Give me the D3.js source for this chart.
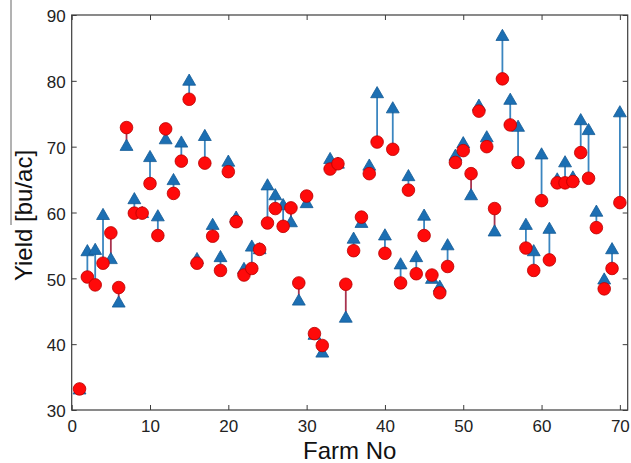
<!DOCTYPE html>
<html>
<head>
<meta charset="utf-8">
<script src="https://cdn.jsdelivr.net/npm/d3@7"></script>
<style>
  html, body { margin: 0; padding: 0; background: #fff; }
  svg { display: block; }
  .tick text { font-family: "Liberation Sans", Arial, sans-serif; font-size: 17px; fill: #222; }
</style>
</head>
<body>
<svg id="chart" width="631" height="463"></svg>
<script>
// Farm numbers (x categories)
const farms = [
  1, 2, 3, 4, 5, 6, 7, 8, 9, 10,
  11, 12, 13, 14, 15, 16, 17, 18, 19, 20,
  21, 22, 23, 24, 25, 26, 27, 28, 29, 30,
  31, 32, 33, 34, 35, 36, 37, 38, 39, 40,
  41, 42, 43, 44, 45, 46, 47, 48, 49, 50,
  51, 52, 53, 54, 55, 56, 57, 58, 59, 60,
  61, 62, 63, 64, 65, 66, 67, 68, 69, 70
];

// Red circles
const circleYield = [
  33.2, 50.2, 49.0, 52.3, 56.9, 48.6, 72.9, 59.9, 59.9, 64.4,
  56.5, 72.7, 62.9, 67.8, 77.2, 52.3, 67.5, 56.4, 51.2, 66.2,
  58.6, 50.5, 51.5, 54.4, 58.4, 60.6, 57.9, 60.7, 49.3, 62.5,
  41.6, 39.8, 66.6, 67.4, 49.1, 54.2, 59.3, 65.9, 70.7, 53.8,
  69.6, 49.3, 63.4, 50.7, 56.5, 50.5, 47.8, 51.8, 67.6, 69.4,
  65.9, 75.4, 70.0, 60.6, 80.3, 73.3, 67.6, 54.6, 51.2, 61.8,
  52.8, 64.5, 64.5, 64.7, 69.1, 65.2, 57.7, 48.4, 51.5, 61.5
];

// Blue triangles
const triangleYield = [
  33.0, 54.0, 54.2, 59.5, 52.8, 46.2, 70.0, 61.9, 59.8, 68.3,
  59.3, 71.0, 64.8, 70.5, 79.9, 52.8, 71.5, 58.0, 53.1, 67.6,
  59.1, 51.3, 54.7, 54.3, 64.0, 62.5, 61.0, 58.4, 46.5, 61.3,
  41.3, 38.6, 68.0, 67.3, 43.9, 55.9, 58.3, 67.0, 78.0, 56.4,
  75.7, 52.0, 65.4, 53.1, 59.4, 49.8, 48.6, 54.9, 68.5, 70.4,
  62.5, 76.1, 71.3, 57.0, 86.7, 77.0, 72.9, 58.0, 54.0, 68.7,
  57.4, 64.9, 67.5, 65.2, 73.9, 72.4, 60.0, 49.7, 54.3, 75.1
];

const xTicks = [0, 10, 20, 30, 40, 50, 60, 70];
const yTicks = [30, 40, 50, 60, 70, 80, 90];

const COLORS = {
  axis: '#3c3c3c',
  circle: '#ff0a0a',
  circleEdge: '#b80000',
  triangle: '#1c6fb3',
  triangleEdge: '#135a96',
  lineUp: '#3b86c0',
  lineDown: '#a8334f'
};

const svg = d3.select('#chart');

const plot = { left: 71.7, right: 627.7, top: 15, bottom: 410 };

const x = d3.scaleLinear().domain([0, 71]).range([plot.left, plot.right]);
const y = d3.scaleLinear().domain([30, 90]).range([plot.bottom, plot.top]);

const rows = farms.map((f, i) => ({ farm: f, c: circleYield[i], t: triangleYield[i] }));

// Crop edge left in the source figure
svg.append('line')
  .attr('x1', 11).attr('x2', 11)
  .attr('y1', 0).attr('y2', 225)
  .attr('stroke', '#666')
  .attr('stroke-width', 1);

// Axes — ticks point inward, MATLAB style box
svg.append('g')
  .attr('transform', `translate(0,${plot.bottom})`)
  .call(d3.axisBottom(x).tickValues(xTicks).tickSizeInner(-5).tickSizeOuter(0).tickPadding(10));

const yAxis = svg.append('g')
  .attr('transform', `translate(${plot.left},0)`)
  .call(d3.axisLeft(y).tickValues(yTicks).tickSizeInner(-5).tickSizeOuter(0).tickPadding(6));
yAxis.selectAll('.tick text').attr('dy', '0.4em');

svg.append('g')
  .attr('transform', `translate(0,${plot.top})`)
  .call(d3.axisTop(x).tickValues(xTicks).tickSizeInner(-5).tickSizeOuter(0).tickFormat(''));

svg.append('g')
  .attr('transform', `translate(${plot.right},0)`)
  .call(d3.axisRight(y).tickValues(yTicks).tickSizeInner(-5).tickSizeOuter(0).tickFormat(''));

svg.selectAll('.domain').remove();
svg.selectAll('.tick line').attr('stroke', COLORS.axis);

svg.append('rect')
  .attr('x', plot.left).attr('y', plot.top)
  .attr('width', plot.right - plot.left)
  .attr('height', plot.bottom - plot.top)
  .attr('fill', 'none')
  .attr('stroke', COLORS.axis)
  .attr('stroke-width', 1.2);

// Connectors between circle and triangle
svg.append('g').selectAll('line')
  .data(rows)
  .join('line')
  .attr('x1', d => x(d.farm)).attr('x2', d => x(d.farm))
  .attr('y1', d => y(d.c)).attr('y2', d => y(d.t))
  .attr('stroke', d => d.t >= d.c ? COLORS.lineUp : COLORS.lineDown)
  .attr('stroke-width', 1.8);

// Triangles
const tri = d3.symbol().type(d3.symbolTriangle).size(72);
svg.append('g').selectAll('path')
  .data(rows)
  .join('path')
  .attr('d', tri)
  .attr('transform', d => `translate(${x(d.farm)},${y(d.t)})`)
  .attr('fill', COLORS.triangle)
  .attr('stroke', COLORS.triangleEdge)
  .attr('stroke-width', 0.8);

// Circles on top
svg.append('g').selectAll('circle')
  .data(rows)
  .join('circle')
  .attr('cx', d => x(d.farm))
  .attr('cy', d => y(d.c))
  .attr('r', 6.3)
  .attr('fill', COLORS.circle)
  .attr('stroke', COLORS.circleEdge)
  .attr('stroke-width', 0.8);

// Axis titles
svg.append('text')
  .attr('x', (plot.left + plot.right) / 2)
  .attr('y', 459)
  .attr('text-anchor', 'middle')
  .style('font-family', '"Liberation Sans", Arial, sans-serif')
  .style('font-size', '24px')
  .attr('fill', '#111')
  .text('Farm No');

svg.append('text')
  .attr('transform', 'translate(31.5,215.5) rotate(-90)')
  .attr('text-anchor', 'middle')
  .style('font-family', '"Liberation Sans", Arial, sans-serif')
  .style('font-size', '24px')
  .attr('fill', '#111')
  .text('Yield [bu/ac]');
</script>
</body>
</html>
